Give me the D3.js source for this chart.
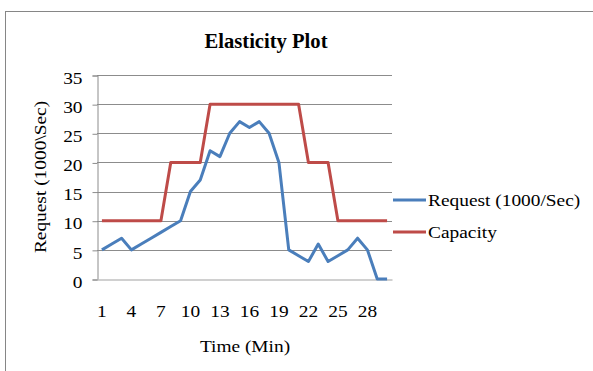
<!DOCTYPE html>
<html>
<head>
<meta charset="utf-8">
<script src="https://cdn.jsdelivr.net/npm/d3@7"></script>
<style>
  body { margin: 0; background: #fff; }
  text { font-family: "Liberation Serif", "Times New Roman", serif; fill: #000; }
</style>
</head>
<body>
<div id="chart"></div>
<script>
var width = 593
var height = 371
var stretch = 1.14 // text in the original is a bit wider than Liberation Serif

// data
var minutes = d3.range(1, 31)
var request = [5, 6, 7, 5, 6, 7, 8, 9, 10, 15, 17, 22, 21, 25, 27, 26, 27, 25, 20, 5, 4, 3, 6, 3, 4, 5, 7, 5, 0, 0]
var capacity = [10, 10, 10, 10, 10, 10, 10, 20, 20, 20, 20, 30, 30, 30, 30, 30, 30, 30, 30, 30, 30, 20, 20, 20, 10, 10, 10, 10, 10, 10]
var xTicks = [1, 4, 7, 10, 13, 16, 19, 22, 25, 28]
var yTicks = [0, 5, 10, 15, 20, 25, 30, 35]

var series = [
    {name: "Request (1000/Sec)", values: request, color: "#4a7ebb"},
    {name: "Capacity", values: capacity, color: "#be4b48"}
]

var plot = {left: 97, right: 392, top: 75, bottom: 279}

var svg = d3.select("#chart")
    .append("svg")
    .attr("width", width)
    .attr("height", height)

// outer frame (runs off the right and bottom edge)
svg.append("rect")
    .attr("x", 5.5)
    .attr("y", 11.5)
    .attr("width", 700)
    .attr("height", 500)
    .attr("fill", "none")
    .attr("stroke", "#868686")

var xScale = d3.scaleBand().domain(minutes).range([plot.left, plot.right])
var yScale = d3.scaleLinear().domain([0, 35]).range([plot.bottom, plot.top])

// gridlines
svg.append("g")
    .selectAll("line")
    .data(yTicks.filter(function(d) { return d > 0 }))
    .enter()
    .append("line")
    .attr("x1", plot.left)
    .attr("x2", plot.right)
    .attr("y1", function(d) { return Math.round(yScale(d)) + 0.5 })
    .attr("y2", function(d) { return Math.round(yScale(d)) + 0.5 })
    .attr("stroke", "#8c8c8c")

// y axis
var yAxis = d3.axisLeft(yScale).tickValues(yTicks).tickSize(5)
var yG = svg.append("g")
    .attr("transform", "translate(" + (plot.left + 0.5) + ",0.5)")
    .call(yAxis)
yG.select(".domain").attr("stroke", "#8c8c8c")
yG.selectAll(".tick line").attr("stroke", "#8c8c8c")
yG.selectAll(".tick text")
    .attr("font-size", "17px")
    .attr("font-family", "Liberation Serif, Times New Roman, serif")
    .attr("fill", "#000")
    .attr("x", -15 / stretch)
    .attr("dy", "0.45em")
    .attr("transform", "scale(" + stretch + ",1)")

// x axis
var xAxis = d3.axisBottom(xScale).tickValues(xTicks).tickSize(0)
var xG = svg.append("g")
    .attr("transform", "translate(0," + (plot.bottom + 0.5) + ")")
    .call(xAxis)
xG.select(".domain").attr("stroke", "#c0c0c0").attr("stroke-width", 1.5)
xG.selectAll(".tick text")
    .attr("font-size", "17px")
    .attr("font-family", "Liberation Serif, Times New Roman, serif")
    .attr("fill", "#000")
    .attr("y", 37.5)
    .attr("dy", 0)
    .attr("transform", "scale(" + stretch + ",1)")

// lines
var line = d3.line()
    .x(function(d, i) { return xScale(minutes[i]) + xScale.bandwidth() / 2 })
    .y(function(d) { return yScale(d) })

svg.append("g")
    .selectAll("path")
    .data(series)
    .enter()
    .append("path")
    .attr("d", function(d) { return line(d.values) })
    .attr("fill", "none")
    .attr("stroke", function(d) { return d.color })
    .attr("stroke-width", 3)
    .attr("stroke-linejoin", "round")

// title and axis titles
svg.append("text")
    .attr("transform", "translate(266,48) scale(1.03,1)")
    .attr("text-anchor", "middle")
    .attr("font-size", "20px")
    .attr("font-weight", "bold")
    .text("Elasticity Plot")

svg.append("text")
    .attr("transform", "translate(245,352) scale(" + stretch + ",1)")
    .attr("text-anchor", "middle")
    .attr("font-size", "17px")
    .text("Time (Min)")

svg.append("text")
    .attr("transform", "translate(46,177) rotate(-90) scale(" + stretch + ",1)")
    .attr("text-anchor", "middle")
    .attr("font-size", "17px")
    .text("Request (1000\\Sec)")

// legend
var legend = svg.append("g")
    .selectAll("g")
    .data(series)
    .enter()
    .append("g")
    .attr("transform", function(d, i) { return "translate(393," + (200 + i * 32) + ")" })

legend.append("line")
    .attr("x1", 0)
    .attr("x2", 33)
    .attr("stroke", function(d) { return d.color })
    .attr("stroke-width", 3)

legend.append("text")
    .attr("transform", "translate(35,6) scale(" + stretch + ",1)")
    .attr("font-size", "17px")
    .text(function(d) { return d.name })
</script>
</body>
</html>
